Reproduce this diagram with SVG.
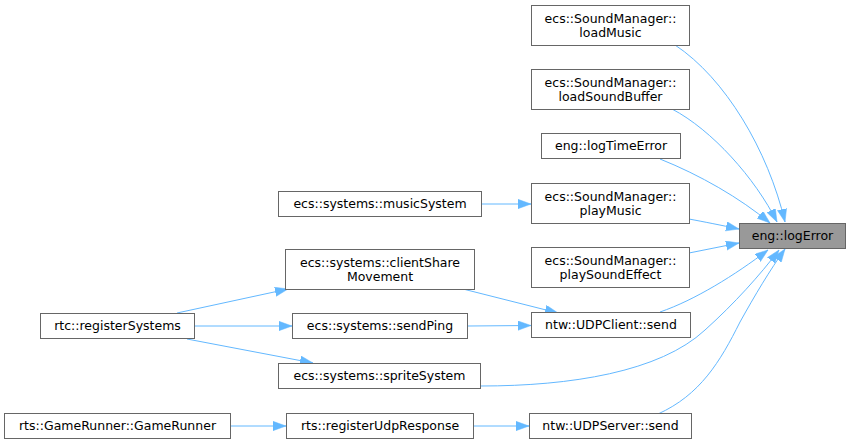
<svg xmlns="http://www.w3.org/2000/svg" width="851" height="445" viewBox="0 0 851 445">
<style>
.n rect{fill:#ffffff;stroke:#666666;stroke-width:1}
.n.hl rect{fill:#999999}
.n text{font-family:"DejaVu Sans",sans-serif;font-size:12.5px;fill:#000000;text-anchor:middle}
.e path{fill:none;stroke:#63b8ff;stroke-width:1}
</style>
<defs>
<marker id="ah" markerUnits="userSpaceOnUse" markerWidth="14" markerHeight="10" refX="13" refY="4.65" orient="auto">
<path d="M0,0 L13,4.65 L0,9.3 z" fill="#63b8ff" stroke="#63b8ff" stroke-width="0.5"/>
</marker>
</defs>
<rect width="851" height="445" fill="#ffffff"/>
<g id="connectors" class="e">
<path marker-end="url(#ah)" d="M675,45 C725,78 768,150 785,222"/>
<path marker-end="url(#ah)" d="M672,109 C712,130 755,178 777,222"/>
<path marker-end="url(#ah)" d="M660,159 C700,175 740,198 770,223"/>
<path marker-end="url(#ah)" d="M689,219 C705,222 720,225 739,229"/>
<path marker-end="url(#ah)" d="M689,253 L739,243"/>
<path marker-end="url(#ah)" d="M660,312 C695,300 735,275 768,250"/>
<path marker-end="url(#ah)" d="M481,386 C570,386 660,372 705,330 C735,303 760,275 779,250"/>
<path marker-end="url(#ah)" d="M658,414 C700,395 720,362 740,322 C755,295 770,270 785,249"/>
<path marker-end="url(#ah)" d="M481,204 L531,204"/>
<path marker-end="url(#ah)" d="M463,289 L558,313"/>
<path marker-end="url(#ah)" d="M468,326 L531,325.5"/>
<path marker-end="url(#ah)" d="M177,313 L288,289"/>
<path marker-end="url(#ah)" d="M194,326 L292,326"/>
<path marker-end="url(#ah)" d="M187,339 L313,363"/>
<path marker-end="url(#ah)" d="M231,426 L286,426"/>
<path marker-end="url(#ah)" d="M473,426 L529,426"/>
</g>
<g id="logError" class="n hl"><rect x="739.5" y="223.5" width="106" height="25"/><text x="792.5" y="240">eng::logError</text></g>
<g id="loadMusic" class="n"><rect x="531.5" y="5.5" width="158" height="40"/><text x="610.5" y="22.5">ecs::SoundManager::</text><text x="610.5" y="36.5">loadMusic</text></g>
<g id="loadSoundBuffer" class="n"><rect x="531.5" y="69.5" width="158" height="40"/><text x="610.5" y="86.5">ecs::SoundManager::</text><text x="610.5" y="100.5">loadSoundBuffer</text></g>
<g id="logTimeError" class="n"><rect x="541.5" y="133.5" width="139" height="25"/><text x="611" y="150">eng::logTimeError</text></g>
<g id="playMusic" class="n"><rect x="531.5" y="183.5" width="158" height="40"/><text x="610.5" y="200.5">ecs::SoundManager::</text><text x="610.5" y="214.5">playMusic</text></g>
<g id="playSoundEffect" class="n"><rect x="531.5" y="247.5" width="158" height="40"/><text x="610.5" y="264.5">ecs::SoundManager::</text><text x="610.5" y="278.5">playSoundEffect</text></g>
<g id="UDPClientSend" class="n"><rect x="531.5" y="312.5" width="159" height="25"/><text x="611" y="329">ntw::UDPClient::send</text></g>
<g id="UDPServerSend" class="n"><rect x="529.5" y="413.5" width="162" height="25"/><text x="610.5" y="430">ntw::UDPServer::send</text></g>
<g id="musicSystem" class="n"><rect x="278.5" y="191.5" width="203" height="25"/><text x="380" y="208">ecs::systems::musicSystem</text></g>
<g id="clientShareMovement" class="n"><rect x="285.5" y="249.5" width="189" height="40"/><text x="380" y="266.5">ecs::systems::clientShare</text><text x="380" y="280.5">Movement</text></g>
<g id="registerSystems" class="n"><rect x="40.5" y="313.5" width="154" height="25"/><text x="117.5" y="330">rtc::registerSystems</text></g>
<g id="sendPing" class="n"><rect x="292.5" y="313.5" width="175" height="25"/><text x="380" y="330">ecs::systems::sendPing</text></g>
<g id="spriteSystem" class="n"><rect x="278.5" y="363.5" width="202" height="25"/><text x="379.5" y="380">ecs::systems::spriteSystem</text></g>
<g id="GameRunner" class="n"><rect x="4.5" y="413.5" width="226" height="25"/><text x="117.5" y="430">rts::GameRunner::GameRunner</text></g>
<g id="registerUdpResponse" class="n"><rect x="286.5" y="413.5" width="187" height="25"/><text x="380" y="430">rts::registerUdpResponse</text></g>
</svg>
